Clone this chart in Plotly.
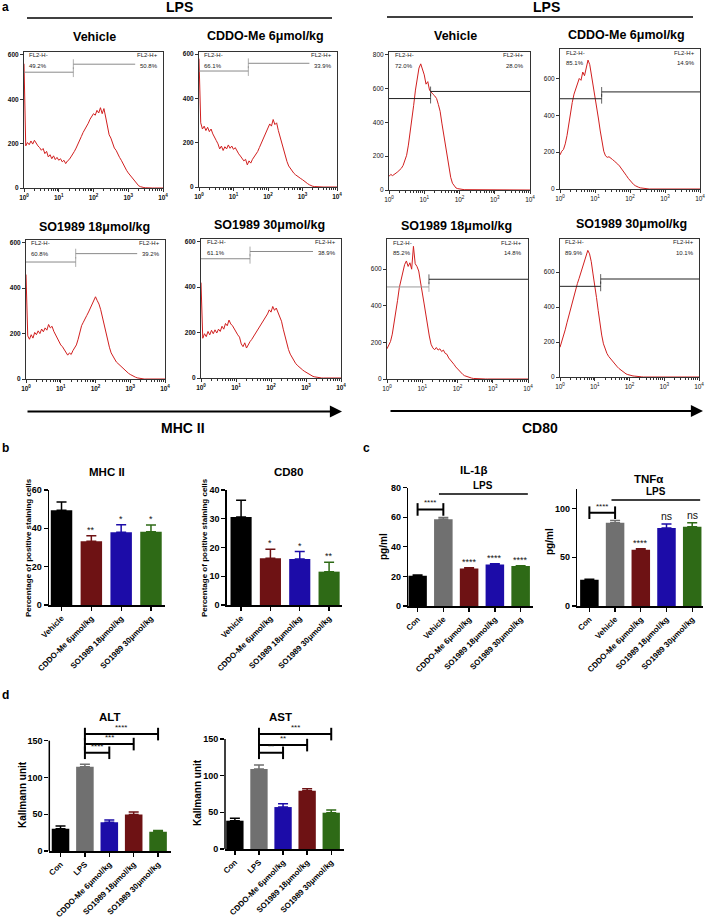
import plotly.graph_objects as go

W, H = 710, 919
FONT = "Liberation Sans, Arial, sans-serif"

# ---------------- panel a: flow cytometry histograms ----------------
LOG_BINS = [round(0.05 * i, 2) for i in range(81)]          # log10 channel bins
FL_TICKVALS = [1, 10, 100, 1000, 10000]
FL_TICKTEXT = ["10<sup>0</sup>", "10<sup>1</sup>", "10<sup>2</sup>", "10<sup>3</sup>", "10<sup>4</sup>"]
FL_MINOR = [m * 10 ** d for d in range(4) for m in range(2, 10)]

HIST_TITLES = ["Vehicle", "CDDO-Me 6μmol/kg", "SO1989 18μmol/kg", "SO1989 30μmol/kg"]

MHC_VEHICLE = [560, 190, 205, 195, 212, 198, 215, 200, 190, 182,
               170, 178, 155, 165, 140, 150, 132, 145, 128, 138,
               125, 132, 118, 125, 110, 122, 128, 140, 150, 165,
               180, 200, 215, 232, 250, 262, 278, 292, 310, 325,
               335, 328, 350, 338, 362, 335, 358, 320, 270, 240,
               225, 200, 180, 170, 150, 138, 125, 108, 95, 80,
               68, 58, 45, 35, 25, 16, 10, 6, 3, 2, 1] + [0] * 10
MHC_CDDO = [580, 290, 262, 275, 255, 270, 250, 262, 240, 228,
            210, 195, 172, 185, 165, 182, 172, 190, 175, 185,
            170, 178, 160, 150, 140, 130, 118, 125, 100, 118,
            108, 125, 135, 150, 160, 178, 195, 210, 228, 250,
            268, 285, 275, 305, 282, 290, 255, 225, 195, 165,
            135, 115, 95, 82, 72, 62, 55, 48, 44, 38,
            33, 26, 20, 15, 10, 6, 3, 2, 1] + [0] * 12
MHC_SO18 = [460, 190, 175, 195, 180, 205, 195, 212, 200, 220,
            208, 225, 215, 240, 225, 232, 210, 195, 178, 168,
            150, 142, 128, 118, 105, 115, 108, 125, 135, 150,
            175, 210, 235, 250, 262, 280, 295, 310, 330, 340,
            362, 345, 330, 305, 270, 245, 205, 165, 140, 115,
            98, 88, 75, 68, 58, 50, 45, 38, 32, 25,
            20, 15, 12, 8, 5, 3, 2, 1] + [0] * 13
MHC_SO30 = [420, 175, 195, 182, 205, 190, 210, 195, 212, 198,
            215, 205, 228, 215, 240, 230, 255, 238, 230, 215,
            205, 190, 180, 150, 138, 155, 132, 150, 160, 170,
            182, 195, 210, 222, 235, 245, 258, 270, 282, 300,
            290, 315, 298, 308, 290, 275, 250, 215, 180, 155,
            125, 105, 90, 75, 65, 56, 48, 42, 36, 30,
            25, 20, 15, 11, 7, 5, 3, 2, 1] + [0] * 12
MHC_NEG = ["49.2%", "66.1%", "60.8%", "61.1%"]
MHC_POS = ["50.8%", "33.9%", "39.2%", "38.9%"]
MHC_GATE_SPLIT = [1.42, 1.43, 1.43, 1.40]
MHC_GATE_LOW = [522, 524, 515, 525]
MHC_GATE_HIGH = [558, 559, 552, 557]
MHC_GATE_END = 3.2
MHC_YMAX = [613, 610, 612, 612]

CD80_VEHICLE = [80, 92, 85, 95, 100, 108, 118, 128, 145, 170,
                205, 265, 335, 420, 500, 590, 665, 720, 745, 710,
                680, 625, 640, 590, 575, 565, 555, 540, 505, 465,
                395, 330, 255, 185, 120, 75, 40, 22, 12, 8,
                5, 4, 3, 2, 2, 1, 1] + [0] * 34
CD80_CDDO = [185, 205, 215, 245, 290, 355, 410, 470, 515, 545,
             575, 600, 590, 635, 615, 660, 700, 675, 620, 560,
             500, 440, 380, 315, 255, 205, 180, 172, 175, 165,
             160, 152, 145, 135, 125, 110, 98, 85, 72, 58,
             45, 35, 25, 18, 12, 9, 6, 4, 3, 2, 1] + [0] * 30
CD80_SO18 = [165, 185, 205, 245, 300, 365, 430, 500, 545, 590,
             625, 645, 615, 635, 600, 725, 630, 615, 590, 530,
             480, 415, 355, 290, 235, 190, 170, 160, 172, 158,
             165, 150, 158, 140, 135, 115, 105, 92, 80, 66,
             55, 44, 33, 25, 18, 14, 10, 7, 5, 3, 2, 1] + [0] * 29
CD80_SO30 = [170, 200, 235, 270, 310, 350, 390, 430, 465, 500,
             535, 565, 595, 630, 660, 690, 725, 705, 660, 590,
             530, 455, 380, 305, 240, 190, 155, 135, 118, 105,
             92, 80, 70, 58, 48, 40, 32, 25, 18, 14,
             10, 8, 6, 5, 3, 2, 2, 1] + [0] * 33
CD80_NEG = ["72.0%", "85.1%", "85.2%", "89.9%"]
CD80_POS = ["28.0%", "14.9%", "14.8%", "10.1%"]
CD80_GATE_SPLIT = [1.18, 1.19, 1.19, 1.17]
CD80_GATE_LOW = [540, 490, 503, 519]
CD80_GATE_HIGH = [582, 527, 545, 561]
CD80_GATE_END = 4.0
CD80_YMAX = [815, 760, 765, 790]

# ---------------- panel b ----------------
B_CATS = ["Vehicle", "CDDO-Me 6μmol/kg", "SO1989 18μmol/kg", "SO1989 30μmol/kg"]
MHC_PCT = [49.5, 33.3, 37.9, 38.2]
MHC_PCT_ERR = [4.3, 2.8, 4.0, 3.5]
MHC_SIG = ["", "**", "*", "*"]
CD80_PCT = [30.6, 16.3, 16.0, 11.6]
CD80_PCT_ERR = [5.8, 3.1, 2.6, 3.3]
CD80_SIG = ["", "*", "*", "**"]

# ---------------- panel c ----------------
C_CATS = ["Con", "Vehicle", "CDDO-Me 6μmol/kg", "SO1989 18μmol/kg", "SO1989 30μmol/kg"]
IL1B = [20.4, 58.7, 25.3, 28.0, 27.0]
IL1B_ERR = [0.6, 1.2, 0.6, 0.6, 0.3]
IL1B_SIG = ["", "", "****", "****", "****"]
IL1B_BRACKET = (0, 1, 65.3, "****")
IL1B_LPS = (0.83, 4.28, 75.7)
TNFA = [26.8, 85.3, 57.7, 80.1, 81.4]
TNFA_ERR = [0.6, 2.3, 1.1, 4.1, 3.9]
TNFA_SIG = ["", "", "****", "ns", "ns"]
TNFA_BRACKET = (0, 1, 95.7, "****")
TNFA_LPS = (0.86, 4.31, 108.7)

# ---------------- panel d ----------------
D_CATS = ["Con", "LPS", "CDDO-Me 6μmol/kg", "SO1989 18μmol/kg", "SO1989 30μmol/kg"]
ALT = [30.3, 114.6, 39.0, 49.8, 26.2]
ALT_ERR = [3.7, 3.4, 3.0, 3.2, 1.8]
ALT_BRACKETS = [(1, 2, 133.6, "****"), (1, 3, 145.4, "***"), (1, 4, 159.0, "****")]
AST = [38.6, 109.0, 57.2, 79.5, 49.5]
AST_ERR = [3.2, 5.4, 4.5, 2.7, 3.6]
AST_BRACKETS = [(1, 2, 131.2, "**"), (1, 3, 141.7, "**"), (1, 4, 156.7, "***")]

BLACK, GRAY, RED, BLUE, GREEN = "#000000", "#707070", "#6e1214", "#1c0ca8", "#2e6a16"
B_COLORS = [BLACK, RED, BLUE, GREEN]
C_COLORS = [BLACK, GRAY, RED, BLUE, GREEN]
D_COLORS = [BLACK, GRAY, BLUE, RED, GREEN]

# ======================================================================
fig = go.Figure()
layout = {}
annotations = []
shapes = []
_axis = [0]


def px(x):
    return x / W


def py(y):
    return 1 - y / H


def new_axes():
    _axis[0] += 1
    return "" if _axis[0] == 1 else str(_axis[0])


def text(t, x, y, size, bold=False, color="black", **kw):
    d = dict(text=t, x=px(x), y=py(y), xref="paper", yref="paper", showarrow=False,
             font=dict(family=FONT, size=size, color=color, weight="bold" if bold else "normal"),
             xanchor="center", yanchor="middle")
    d.update(kw)
    annotations.append(d)


def add_hist(counts, box, ymax, yticks, neg, pos, split, low, high, gate_end, gate_cols, bold_ticks):
    s = new_axes()
    l, r, t, b = box
    tf = dict(family=FONT, size=6.5, color="#111", weight="bold" if bold_ticks else "normal")
    layout["xaxis" + s] = dict(domain=[px(l), px(r)], anchor="y" + s, type="log", range=[0, 4],
                               automargin=False,
                               tickvals=FL_TICKVALS, ticktext=FL_TICKTEXT, ticks="outside", ticklen=3,
                               tickwidth=1, tickcolor="#333", tickfont=tf, showline=True, mirror=True,
                               linecolor="#333", linewidth=1, showgrid=False, zeroline=False,
                               minor=dict(ticks="outside", ticklen=1.5, tickvals=FL_MINOR, tickcolor="#333"))
    layout["yaxis" + s] = dict(domain=[py(b), py(t)], anchor="x" + s, range=[0, ymax], tickvals=yticks,
                               automargin=False,
                               ticks="outside", ticklen=3, tickwidth=1, tickcolor="#333", tickfont=tf,
                               showline=True, mirror=True, linecolor="#333", linewidth=1,
                               showgrid=False, zeroline=False)
    ax = dict(xaxis="x" + s, yaxis="y" + s, showlegend=False, hoverinfo="skip")
    fig.add_trace(go.Scatter(x=[10 ** v for v in LOG_BINS], y=counts, mode="lines",
                             line=dict(color="#d11f1f", width=1), **ax))
    fig.add_trace(go.Scatter(x=[1, 10 ** split], y=[low, low], mode="lines+markers", cliponaxis=False,
                             line=dict(color=gate_cols[0], width=1),
                             marker=dict(symbol="line-ns-open", size=[0, 7], line=dict(width=1, color=gate_cols[0])),
                             **ax))
    fig.add_trace(go.Scatter(x=[10 ** split, 10 ** gate_end], y=[high, high], mode="lines+markers",
                             cliponaxis=False, line=dict(color=gate_cols[1], width=1),
                             marker=dict(symbol="line-ns-open", size=[7, 0], line=dict(width=1, color=gate_cols[1])),
                             **ax))
    f = dict(family=FONT, size=6, color="#222")
    xr, yr = "x" + s + " domain", "y" + s + " domain"
    for txt, xx, yy, anc in [("FL2-H-", 0.025, 0.975, "left"), (neg, 0.025, 0.9, "left"),
                             ("FL2-H+", 0.975, 0.975, "right"), (pos, 0.975, 0.9, "right")]:
        annotations.append(dict(text=txt, x=xx, y=yy, xref=xr, yref=yr, showarrow=False, font=f,
                                xanchor=anc, yanchor="middle"))


MHC_BOXES = [(24, 163, 52, 188), (199, 337, 52, 187), (26, 165, 240, 379), (201, 341, 239, 378)]
CD80_BOXES = [(389, 530, 52, 190), (560, 700, 49, 189), (387, 528, 239, 379), (560, 699, 239, 377)]
MHC_DATA = [MHC_VEHICLE, MHC_CDDO, MHC_SO18, MHC_SO30]
CD80_DATA = [CD80_VEHICLE, CD80_CDDO, CD80_SO18, CD80_SO30]

for i in range(4):
    add_hist(MHC_DATA[i], MHC_BOXES[i], MHC_YMAX[i], [0, 200, 400, 600], MHC_NEG[i], MHC_POS[i],
             MHC_GATE_SPLIT[i], MHC_GATE_LOW[i], MHC_GATE_HIGH[i], MHC_GATE_END, ("#8a8a8a", "#8a8a8a"), True)
for i in range(4):
    yt = [0, 200, 400, 600, 800] if i == 0 else [0, 200, 400, 600]
    cols = ("#999999", "#222222") if i == 2 else ("#222222", "#222222")
    add_hist(CD80_DATA[i], CD80_BOXES[i], CD80_YMAX[i], yt, CD80_NEG[i], CD80_POS[i],
             CD80_GATE_SPLIT[i], CD80_GATE_LOW[i], CD80_GATE_HIGH[i], CD80_GATE_END, cols, False)

TITLE_POS = [(94, 37), (265, 36), (94, 227), (269, 225)]
TITLE_POS_R = [(455, 36), (626, 35), (456, 226), (631, 224)]
for i in range(4):
    text(HIST_TITLES[i], *TITLE_POS[i], 12.5, True)
    text(HIST_TITLES[i], *TITLE_POS_R[i], 12.5, True)

text("a", 5, 7, 12, True)
text("LPS", 179, 7, 14, True)
text("LPS", 546, 7, 14, True)
shapes.append(dict(type="line", xref="paper", yref="paper", x0=px(27), x1=px(332), y0=py(18), y1=py(18),
                   line=dict(color="black", width=1.5)))
shapes.append(dict(type="line", xref="paper", yref="paper", x0=px(387), x1=px(693), y0=py(17), y1=py(17),
                   line=dict(color="black", width=1.5)))
for x0, x1, yy in [(26, 342, 411.5), (389, 703, 411)]:
    annotations.append(dict(text="", x=px(x1), y=py(yy), ax=-(x1 - x0), ay=0, xref="paper", yref="paper",
                            axref="pixel", ayref="pixel", showarrow=True, arrowhead=2, arrowsize=1.1,
                            arrowwidth=2.2, arrowcolor="black", standoff=0, startstandoff=0))
text("MHC II", 183, 428, 14, True)
text("CD80", 540, 428, 14, True)


# ---------------- bar charts ----------------
def add_bars(cats, vals, errs, colors, xbox, ybox, yrange, dtick, xrange, sigs, title, tpos,
             ytitle, ytpos, ytsize, axis_top=None):
    s = new_axes()
    layout["xaxis" + s] = dict(domain=[px(xbox[0]), px(xbox[1])], anchor="y" + s, range=xrange,
                               automargin=False,
                               tickvals=list(range(len(cats))), ticktext=cats, tickangle=-45,
                               tickfont=dict(family=FONT, size=8, color="black", weight="bold"),
                               ticks="outside", ticklen=4, tickwidth=1.3, tickcolor="black",
                               showline=True, linecolor="black", linewidth=1.5, showgrid=False, zeroline=False)
    layout["yaxis" + s] = dict(domain=[py(ybox[1]), py(ybox[0])], anchor="x" + s, range=yrange, dtick=dtick,
                               automargin=False,
                               tickfont=dict(family=FONT, size=9, color="black", weight="bold"),
                               ticks="outside", ticklen=4, tickwidth=1.3, tickcolor="black",
                               showline=axis_top is None, linecolor="black", linewidth=1.5,
                               showgrid=False, zeroline=False)
    if axis_top is not None:
        shapes.append(dict(type="line", xref="x" + s + " domain", x0=0, x1=0, yref="y" + s, y0=0,
                           y1=axis_top, line=dict(color="black", width=1.5)))
    for i, (v, e, c) in enumerate(zip(vals, errs, colors)):
        fig.add_trace(go.Bar(x=[i], y=[v], width=0.72, marker=dict(color=c, line=dict(width=0)),
                             error_y=dict(type="data", symmetric=False, array=[e], arrayminus=[0],
                                          color=c, thickness=1.5, width=5),
                             xaxis="x" + s, yaxis="y" + s, showlegend=False, hoverinfo="skip"))
        if sigs and sigs[i]:
            ns = sigs[i] == "ns"
            annotations.append(dict(text=sigs[i], x=i, y=v + e, xref="x" + s, yref="y" + s, showarrow=False,
                                    yanchor="bottom", yshift=-1 if not ns else 0,
                                    font=dict(family=FONT, size=10.5 if ns else 9, color="#111")))
    text(title, *tpos, 11.5, True)
    text(ytitle, *ytpos, ytsize, True, textangle=-90)
    return s


def add_bracket(s, i, j, h, label, width=2):
    fig.add_trace(go.Scatter(x=[i, j], y=[h, h], mode="lines+markers", cliponaxis=False,
                             line=dict(color="black", width=width),
                             marker=dict(symbol="line-ns-open", size=9, line=dict(width=width, color="black")),
                             xaxis="x" + s, yaxis="y" + s, showlegend=False, hoverinfo="skip"))
    annotations.append(dict(text=label, x=(i + j) / 2, y=h, xref="x" + s, yref="y" + s, showarrow=False,
                            yanchor="bottom", yshift=0, font=dict(family=FONT, size=8, color="#111")))


def add_lps(s, spec):
    x0, x1, h = spec
    fig.add_trace(go.Scatter(x=[x0, x1], y=[h, h], mode="lines", cliponaxis=False,
                             line=dict(color="black", width=1.5),
                             xaxis="x" + s, yaxis="y" + s, showlegend=False, hoverinfo="skip"))
    annotations.append(dict(text="LPS", x=(x0 + x1) / 2, y=h, xref="x" + s, yref="y" + s, showarrow=False,
                            yanchor="bottom", yshift=1,
                            font=dict(family=FONT, size=10, color="black", weight="bold")))


text("b", 5, 448, 12, True)
text("c", 366, 448, 12, True)
text("d", 5, 695, 12, True)

add_bars(B_CATS, MHC_PCT, MHC_PCT_ERR, B_COLORS, (49, 165), (490, 605), [0, 60], 20, [-0.42, 3.47],
         MHC_SIG, "MHC II", (107, 472), "Percentage of positive staining cells", (28, 548), 8)
add_bars(B_CATS, CD80_PCT, CD80_PCT_ERR, B_COLORS, (226.7, 342), (490, 605), [0, 40], 10, [-0.49, 3.44],
         CD80_SIG, "CD80", (288, 472), "Percentage of positive staining cells", (204, 548), 8)

s_il = add_bars(C_CATS, IL1B, IL1B_ERR, C_COLORS, (408.3, 533), (487.7, 606), [0, 80], 20, [-0.36, 4.48],
                IL1B_SIG, "IL-1β", (473, 470), "pg/ml", (383, 546), 10)
add_bracket(s_il, *IL1B_BRACKET)
add_lps(s_il, IL1B_LPS)
s_tn = add_bars(C_CATS, TNFA, TNFA_ERR, C_COLORS, (577.3, 703), (489, 606), [0, 120], 50, [-0.47, 4.42],
                TNFA_SIG, "TNFα", (648, 479), "pg/ml", (549, 542), 10)
add_bracket(s_tn, *TNFA_BRACKET)
add_lps(s_tn, TNFA_LPS)

ALT_TOP = 162
s_alt = add_bars(D_CATS, ALT, ALT_ERR, D_COLORS, (49.3, 171), (851 - ALT_TOP * 0.7353, 851), [0, ALT_TOP], 50,
                 [-0.46, 4.53], None, "ALT", (110, 717), "Kallmann unit", (22, 795), 10, axis_top=150)
for br in ALT_BRACKETS:
    add_bracket(s_alt, *br)
AST_TOP = 162
s_ast = add_bars(D_CATS, AST, AST_ERR, D_COLORS, (225, 344), (849 - AST_TOP * 0.7333, 849), [0, AST_TOP], 50,
                 [-0.41, 4.53], None, "AST", (280, 717), "Kallmann unit", (197, 793), 10, axis_top=150)
for br in AST_BRACKETS:
    add_bracket(s_ast, *br)

fig.update_layout(template="none", width=W, height=H, margin=dict(l=0, r=0, t=0, b=0, pad=0),
                  paper_bgcolor="white", plot_bgcolor="white", showlegend=False, bargap=0.3,
                  font=dict(family=FONT, color="black"), annotations=annotations, shapes=shapes, **layout)
fig.write_html("out.html", config={"displayModeBar": False, "staticPlot": True},
               post_script="document.body.style.margin='0px';document.body.style.overflow='hidden';")
